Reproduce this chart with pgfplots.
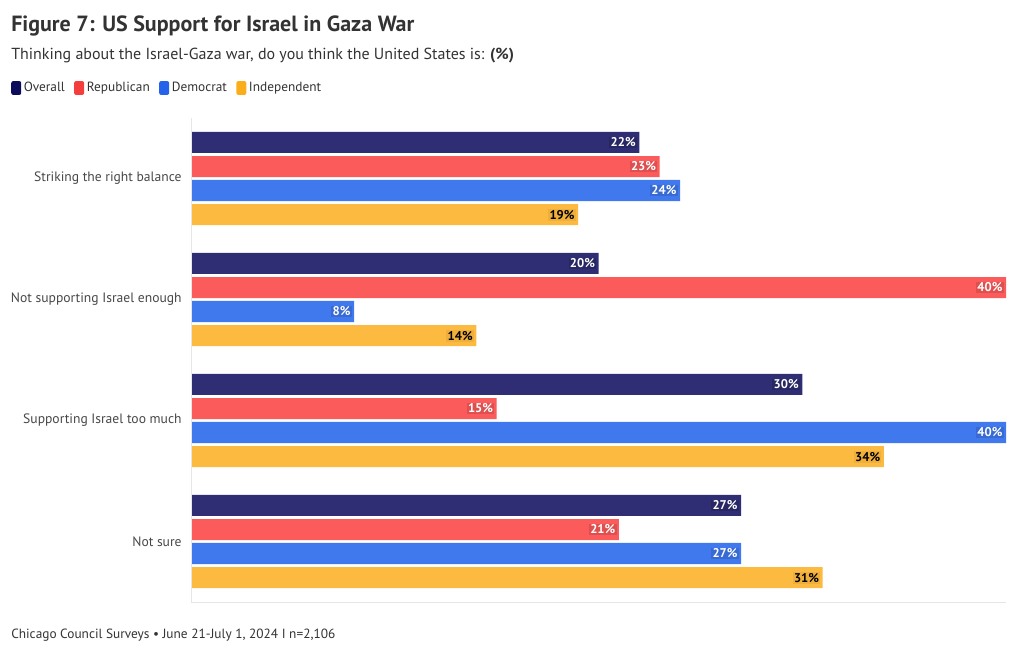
\documentclass[border=0pt]{standalone}
\usepackage{fontspec}
\setmainfont{PT Sans}
\usepackage{pgfplots}
\pgfplotsset{compat=1.18}
\definecolor{cOv}{HTML}{2F2E74}
\definecolor{cRe}{HTML}{FC5B5B}
\definecolor{cDe}{HTML}{4078EE}
\definecolor{cIn}{HTML}{FDBA40}
\definecolor{lOv}{HTML}{0D0C5A}
\definecolor{lRe}{HTML}{F43E3E}
\definecolor{lDe}{HTML}{2563EB}
\definecolor{lIn}{HTML}{FBAE1C}
\definecolor{txt}{HTML}{333333}
\definecolor{axl}{HTML}{E6E6E6}
\begin{document}
\begin{tikzpicture}
\path[use as bounding box] (0,0) rectangle (765pt,-489pt);
\begin{axis}[
  at={(143.25pt,-451.5pt)}, anchor=south west,
  scale only axis, width=611.25pt, height=363pt,
  xmin=0, xmax=40, ymin=-0.5, ymax=3.5, y dir=reverse,
  xbar, bar width=0.174, point meta=x,
  axis line style={draw=none},
  xtick=\empty, ytick={0,1,2,3},
  yticklabels={Striking the right balance,Not supporting Israel enough,Supporting Israel too much,Not sure},
  major tick length=0pt,
  yticklabel style={font=\fontsize{10.2pt}{12pt}\selectfont, text=txt!90, xshift=-3.5pt},
  clip=false,
  /pgf/number format/assume math mode=true,
  nodes near coords={\pgfmathprintnumber[fixed,precision=0,assume math mode=true]{\pgfplotspointmeta}\%},
  every node near coord/.append style={anchor=east, xshift=-1.5pt, font=\bfseries\fontsize{9.5pt}{11pt}\selectfont, inner sep=1pt},
  legend columns=4,
  legend style={at={(axis description cs:-0.2209,1.062)}, anchor=west, draw=none, fill=none,
    font=\fontsize{10pt}{12pt}\selectfont, text=txt, inner sep=0pt,
    /tikz/every even column/.append style={column sep=5pt}},
  legend cell align=left,
]
\addplot[fill=cOv, draw=none, bar shift=-0.298,
  every node near coord/.append style={text=white, fill=cOv!85!black},
  legend image code/.code={\fill[lOv, rounded corners=1.5pt] (0pt,-5.2pt) rectangle (7.5pt,5.2pt);}]
  coordinates {(22,0) (20,1) (30,2) (27,3)};
\addlegendentry{Overall}
\addplot[fill=cRe, draw=none, bar shift=-0.099,
  every node near coord/.append style={text=white, fill=cRe!88!black},
  legend image code/.code={\fill[lRe, rounded corners=1.5pt] (0pt,-5.2pt) rectangle (7.5pt,5.2pt);}]
  coordinates {(23,0) (40,1) (15,2) (21,3)};
\addlegendentry{Republican}
\addplot[fill=cDe, draw=none, bar shift=0.099,
  every node near coord/.append style={text=white, fill=cDe!88!black},
  legend image code/.code={\fill[lDe, rounded corners=1.5pt] (0pt,-5.2pt) rectangle (7.5pt,5.2pt);}]
  coordinates {(24,0) (8,1) (40,2) (27,3)};
\addlegendentry{Democrat}
\addplot[fill=cIn, draw=none, bar shift=0.298,
  every node near coord/.append style={text=black, fill=cIn!94!black},
  legend image code/.code={\fill[lIn, rounded corners=1.5pt] (0pt,-5.2pt) rectangle (7.5pt,5.2pt);}]
  coordinates {(19,0) (14,1) (34,2) (31,3)};
\addlegendentry{Independent}
\end{axis}
\begin{scope}[x=0.75pt,y=-0.75pt]
\draw[axl, line width=0.75pt] (191,118) -- (191,602) -- (1006,602);
\node[anchor=base west, inner sep=0pt, text=txt, font=\bfseries\fontsize{16.5pt}{20pt}\selectfont] at (11,32) {Figure 7: US Support for Israel in Gaza War};
\node[anchor=base west, inner sep=0pt, text=txt, font=\fontsize{12pt}{14pt}\selectfont] at (11,60) {Thinking about the Israel-Gaza war, do you think the United States is: \textbf{(\%)}};
\node[anchor=base west, inner sep=0pt, text=txt, font=\fontsize{10pt}{12pt}\selectfont] at (11,638) {Chicago Council Surveys • June 21-July 1, 2024 I n=2,106};
\end{scope}
\end{tikzpicture}
\end{document}
